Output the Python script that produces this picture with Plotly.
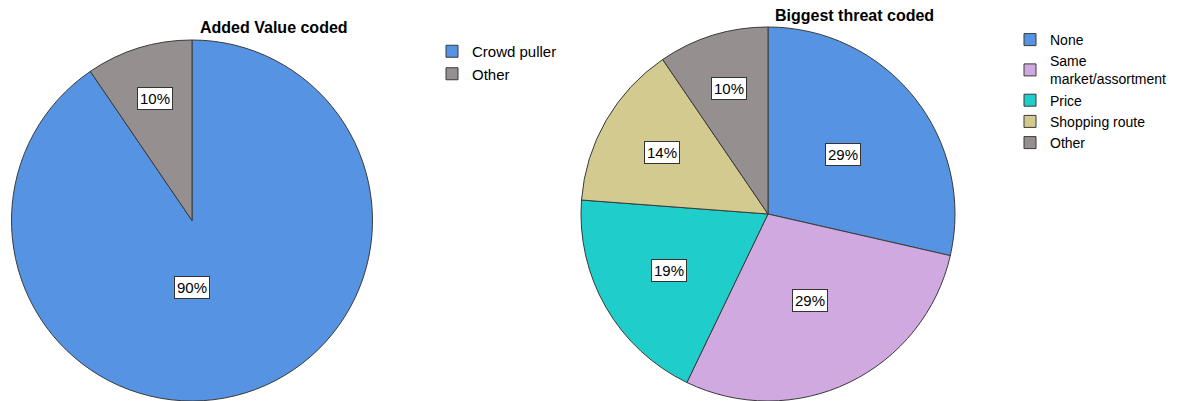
import math
import plotly.graph_objects as go

W, H = 1181, 401

# ---- data ----
added_labels = ["Crowd puller", "Other"]
added_counts = [19, 2]
added_colors = ["#5694E3", "#958F8F"]

# trailing space keeps the second "Other" as its own legend entry
threat_labels = ["None", "Same<br>market/assortment", "Price", "Shopping route", "Other "]
threat_counts = [6, 6, 4, 3, 2]
threat_colors = ["#5694E3", "#D0A9E0", "#1FCECB", "#D2CA8E", "#958F8F"]

titles = ["Added Value coded", "Biggest threat coded"]

FONT = "Arial, Liberation Sans, sans-serif"

dom_left = dict(x=[11 / W, 373 / W], y=[0.0, 1 - 40 / H])
dom_right = dict(x=[581 / W, 955 / W], y=[0.0, 1 - 27 / H])

fig = go.Figure()
fig.add_trace(go.Pie(
    labels=added_labels, values=added_counts, sort=False, direction="clockwise",
    rotation=0, domain=dom_left, textinfo="none", hoverinfo="label+percent",
    marker=dict(colors=added_colors, line=dict(color="#3a3a3a", width=1)),
    legend="legend",
))
fig.add_trace(go.Pie(
    labels=threat_labels, values=threat_counts, sort=False, direction="clockwise",
    rotation=0, domain=dom_right, textinfo="none", hoverinfo="label+percent",
    marker=dict(colors=threat_colors, line=dict(color="#3a3a3a", width=1)),
    legend="legend2",
))


def label_annotations(values, dom):
    cx = (dom["x"][0] + dom["x"][1]) / 2 * W
    cy = H * (1 - (dom["y"][0] + dom["y"][1]) / 2)
    R = min((dom["x"][1] - dom["x"][0]) * W, (dom["y"][1] - dom["y"][0]) * H) / 2
    total = sum(values)
    cum = 0.0
    anns = []
    for v in values:
        f = v / total
        th = 2 * math.pi * (cum + f / 2)
        cum += f
        if f > 0.5:
            # large slice: label near centre, straight below it
            th = math.pi
        r = max(0.37, 0.8 - f) * R
        px = cx + r * math.sin(th)
        py = cy - r * math.cos(th)
        anns.append(dict(
            x=px / W, y=1 - py / H, xref="paper", yref="paper",
            xanchor="center", yanchor="middle",
            text=f"{round(100 * f)}%", showarrow=False,
            font=dict(family=FONT, size=15, color="#000"),
            bgcolor="white", bordercolor="#333", borderwidth=1, borderpad=2,
        ))
    return anns


annotations = label_annotations(added_counts, dom_left) + label_annotations(threat_counts, dom_right)
annotations.append(dict(x=274 / W, y=1 - 28 / H, xref="paper", yref="paper", text="<b>" + titles[0] + "</b>",
                        xanchor="center", yanchor="middle",
                        showarrow=False, font=dict(family=FONT, size=16, color="#000")))
annotations.append(dict(x=854 / W, y=1 - 16 / H, xref="paper", yref="paper", text="<b>" + titles[1] + "</b>",
                        xanchor="center", yanchor="middle",
                        showarrow=False, font=dict(family=FONT, size=16, color="#000")))

fig.update_layout(
    width=W, height=H, margin=dict(l=0, r=0, t=0, b=0),
    paper_bgcolor="white", plot_bgcolor="white",
    annotations=annotations,
    legend=dict(x=432 / W, y=1 - 35 / H, xanchor="left", yanchor="top",
                font=dict(family=FONT, size=15, color="#000"), itemwidth=30,
                tracegroupgap=0, bgcolor="rgba(0,0,0,0)"),
    legend2=dict(x=1010 / W, y=1 - 24 / H, xanchor="left", yanchor="top",
                 font=dict(family=FONT, size=14, color="#000"), itemwidth=30,
                 tracegroupgap=0, bgcolor="rgba(0,0,0,0)"),
)

fig.write_html("out.html")
